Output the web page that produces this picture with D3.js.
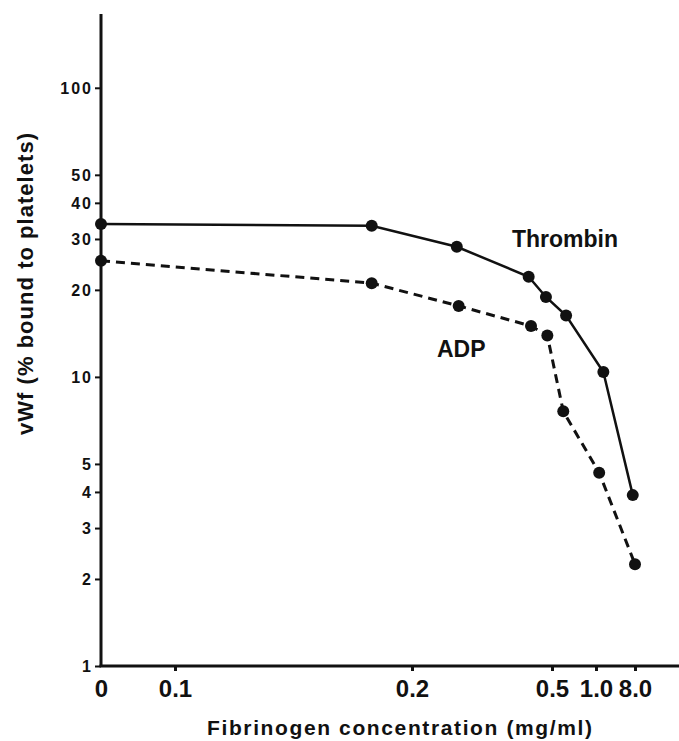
<!DOCTYPE html>
<html>
<head>
<meta charset="utf-8">
<script src="https://cdn.jsdelivr.net/npm/d3@7"></script>
<style>
body { margin:0; background:#fff; }
text { font-family:"Liberation Sans", Arial, sans-serif; font-weight:bold; fill:#111; }
</style>
</head>
<body>
<svg id="chart"></svg>
<script>
/* values */
var xTicks = [0, 0.1, 0.2, 0.5, 1.0, 8.0];
var xTickLabels = ["0", "0.1", "0.2", "0.5", "1.0", "8.0"];
var yTicks = [1, 2, 3, 4, 5, 10, 20, 30, 40, 50, 100];

var thrombinX = [0, 0.183, 0.296, 0.45, 0.487, 0.66, 2.32, 7.6];
var thrombinY = [33.8, 33.3, 28.2, 22.2, 18.9, 16.3, 10.4, 3.9];

var adpX = [0, 0.183, 0.3, 0.455, 0.49, 0.628, 1.57, 8.0];
var adpY = [25.2, 21.1, 17.6, 15.0, 13.9, 7.6, 4.66, 2.25];

var screen = {width:679, height:741};

/*the x axis in the figure is not a regular scale, so it is drawn piecewise between the ticks*/
var xScale = d3.scaleLinear()
    .domain(xTicks)
    .range([101, 175, 412, 552, 596, 635]);

var yScale = d3.scaleLog()
    .domain([1, 180])
    .range([666, 14]);

var svg = d3.select("#chart")
    .attr("width", screen.width)
    .attr("height", screen.height);

var makeSeries = function(xs, ys)
{
    return xs.map(function(d, i) { return {x:d, y:ys[i]}; });
}

var line = d3.line()
    .x(function(d) { return xScale(d.x); })
    .y(function(d) { return yScale(d.y); });

//y axis
var yAxis = d3.axisLeft(yScale)
    .tickValues(yTicks)
    .tickFormat(d3.format("d"))
    .tickSize(6)
    .tickPadding(2);

var yG = svg.append("g")
    .attr("transform", "translate(" + xScale(0) + ",0)")
    .call(yAxis);
yG.select(".domain").remove();
yG.selectAll(".tick line").attr("stroke", "#111").attr("stroke-width", 2);
yG.selectAll(".tick text")
    .style("font-size", "16px")
    .style("letter-spacing", "2px")
    .attr("dy", "0.36em");

//x axis
var xAxis = d3.axisBottom(xScale)
    .tickValues(xTicks)
    .tickFormat(function(d, i) { return xTickLabels[i]; })
    .tickSize(5)
    .tickPadding(9);

var xG = svg.append("g")
    .attr("transform", "translate(0," + yScale(1) + ")")
    .call(xAxis);
xG.select(".domain").remove();
xG.selectAll(".tick line").attr("stroke", "#111").attr("stroke-width", 3)
    .filter(function(d) { return d === 0; }).remove();
xG.selectAll(".tick text")
    .style("font-size", "24px")
    .attr("dy", "0.71em");

//axis lines
svg.append("line")
    .attr("x1", xScale(0)).attr("x2", xScale(0))
    .attr("y1", yScale(180)).attr("y2", yScale(1))
    .attr("stroke", "#111").attr("stroke-width", 3);
svg.append("line")
    .attr("x1", xScale(0) - 1.5).attr("x2", screen.width)
    .attr("y1", yScale(1)).attr("y2", yScale(1))
    .attr("stroke", "#111").attr("stroke-width", 3);

//series
var series = [
    {name:"Thrombin", data:makeSeries(thrombinX, thrombinY), dash:null, width:2.5},
    {name:"ADP", data:makeSeries(adpX, adpY), dash:"9,6", width:3}
];

series.forEach(function(s)
{
    svg.append("path")
        .datum(s.data)
        .attr("d", line)
        .attr("fill", "none")
        .attr("stroke", "#111")
        .attr("stroke-width", s.width)
        .attr("stroke-dasharray", s.dash);

    svg.append("g")
        .selectAll("circle")
        .data(s.data)
        .enter()
        .append("circle")
        .attr("cx", function(d) { return xScale(d.x); })
        .attr("cy", function(d) { return yScale(d.y); })
        .attr("r", 6)
        .attr("fill", "#111");
});

//series labels
svg.append("text")
    .attr("x", 512).attr("y", 247)
    .style("font-size", "23px")
    .text("Thrombin");
svg.append("text")
    .attr("x", 437).attr("y", 357)
    .style("font-size", "23px")
    .text("ADP");

//axis titles
svg.append("text")
    .attr("x", 207).attr("y", 735)
    .attr("textLength", 385)
    .style("font-size", "21px")
    .text("Fibrinogen concentration  (mg/ml)");

svg.append("text")
    .attr("transform", "translate(33,284) rotate(-90)")
    .attr("text-anchor", "middle")
    .attr("textLength", 302)
    .style("font-size", "22px")
    .text("vWf (% bound to platelets)");
</script>
</body>
</html>
